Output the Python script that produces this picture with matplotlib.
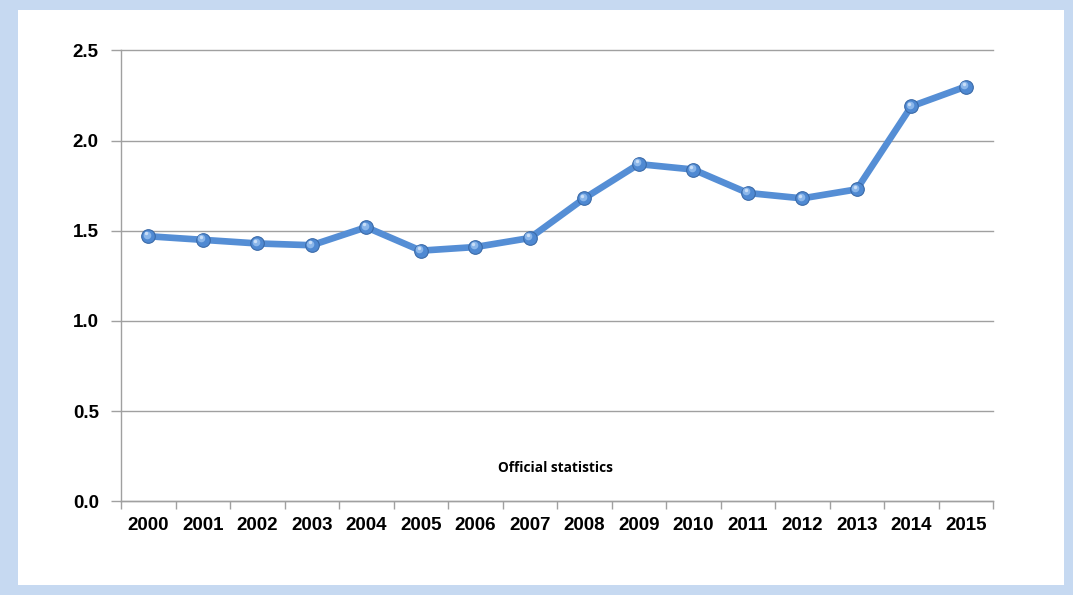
import numpy as np
import matplotlib.pyplot as plt
from matplotlib.patches import Rectangle
from matplotlib.transforms import offset_copy

years = ["2000", "2001", "2002", "2003", "2004", "2005", "2006", "2007",
         "2008", "2009", "2010", "2011", "2012", "2013", "2014", "2015"]
values = [1.47, 1.45, 1.43, 1.42, 1.52, 1.39, 1.41, 1.46,
          1.68, 1.87, 1.84, 1.71, 1.68, 1.73, 2.19, 2.30]
y_ticks = [0.0, 0.5, 1.0, 1.5, 2.0, 2.5]
note = "Official statistics"

W, H = 1073, 595
fig = plt.figure(figsize=(W / 100, H / 100), dpi=100)
fig.patch.set_facecolor("#c6d9f1")

# white inner panel inside the pale blue frame
fig.add_artist(Rectangle((18 / W, 1 - 585 / H), (1064 - 18) / W, (585 - 10) / H,
                         transform=fig.transFigure, facecolor="white",
                         edgecolor="none", zorder=-10))

left, right, top, bottom = 121, 993, 50.5, 501.3
ax = fig.add_axes([left / W, 1 - bottom / H, (right - left) / W, (bottom - top) / H])
ax.set_zorder(1)
ax.set_facecolor("none")

x = np.arange(len(years))
ax.set_xlim(-0.5, len(years) - 0.5)
ax.set_ylim(0, 2.5)

for s in ["top", "right"]:
    ax.spines[s].set_visible(False)
for s in ["left", "bottom"]:
    ax.spines[s].set_color("#a0a0a0")
    ax.spines[s].set_linewidth(1.0)

ax.set_yticks(y_ticks)
ax.set_yticklabels([f"{v:.1f}" for v in y_ticks], fontsize=13.5, fontweight="bold",
                   family="Liberation Sans")
ax.tick_params(axis="y", length=7, width=1, color="#a0a0a0", pad=9)
ax.yaxis.grid(True, color="#a0a0a0", linewidth=1.0)
for gl in ax.get_ygridlines():
    gl.set_clip_on(False)
ax.set_axisbelow(True)

ax.set_xticks(x)
ax.set_xticklabels(years, fontsize=13.5, fontweight="bold", family="Liberation Sans")
ax.tick_params(axis="x", which="major", length=0, pad=11)
ax.set_xticks(np.arange(-0.5, len(years), 1.0), minor=True)
ax.tick_params(axis="x", which="minor", length=6, width=1, color="#a0a0a0")

# the series line with shaded, sphere-like markers
ax.plot(x, values, color="#558ed5", linewidth=4.8, solid_capstyle="round", zorder=3)
ax.plot(x, values, linestyle="none", marker="o", markersize=9.8,
        markerfacecolor="#4f89d2", markeredgecolor="#3a6aa8", markeredgewidth=0.8, zorder=4)
hl = offset_copy(ax.transData, fig=fig, x=-1.0, y=1.2, units="points")
ax.plot(x, values, linestyle="none", marker="o", markersize=5.5, transform=hl,
        markerfacecolor="#8ab6ea", markeredgecolor="none", zorder=5)
hl2 = offset_copy(ax.transData, fig=fig, x=-1.5, y=2.0, units="points")
ax.plot(x, values, linestyle="none", marker="o", markersize=2.5, transform=hl2,
        markerfacecolor="#c9def7", markeredgecolor="none", zorder=6)

fig.text(556 / W, 1 - 468 / H, note, ha="center", va="center", fontsize=9.8,
         fontweight="bold", family="Open Sans")

fig.savefig("out.png", dpi=100, facecolor=fig.get_facecolor())
